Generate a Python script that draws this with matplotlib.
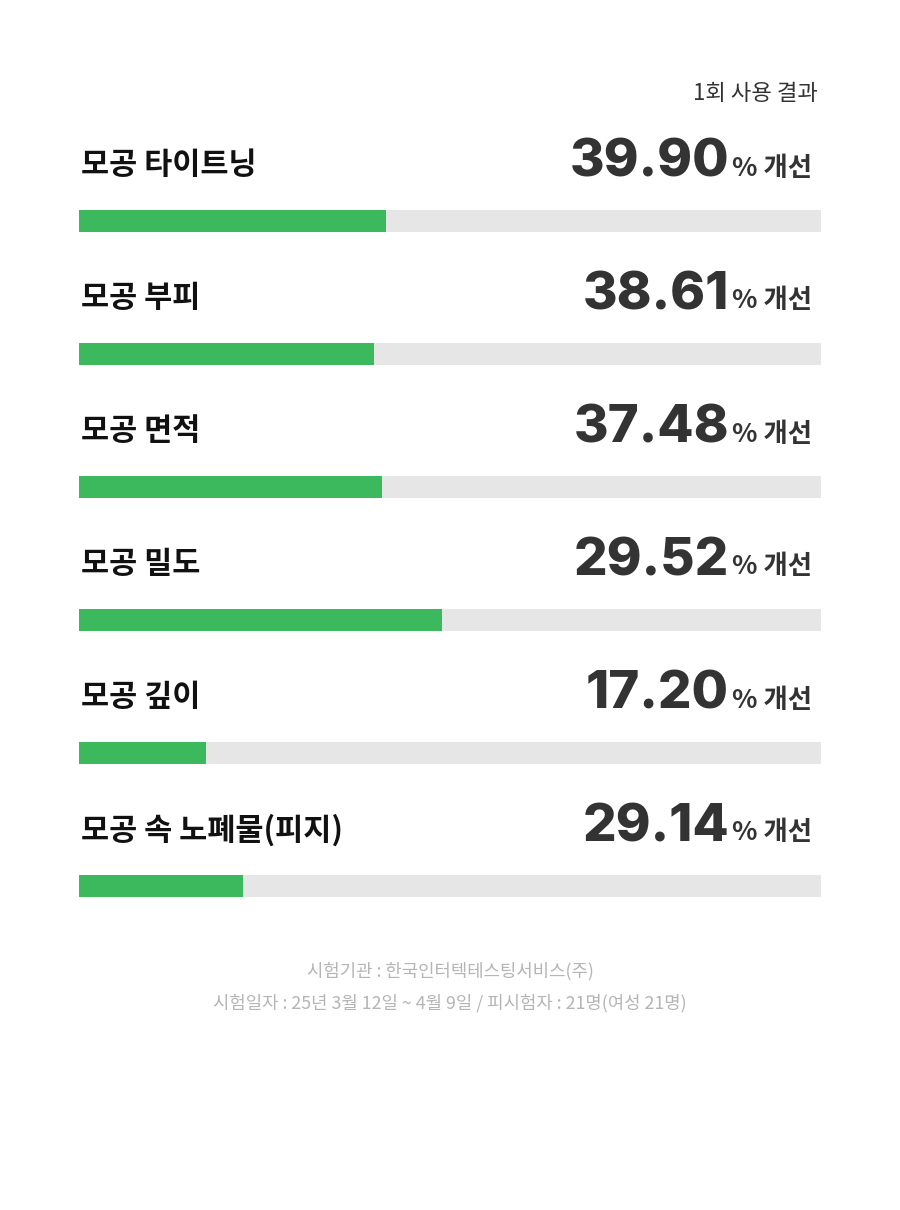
import matplotlib
matplotlib.use("Agg")
import matplotlib.pyplot as plt

plt.rcParams['font.family'] = ['Noto Sans CJK KR', 'DejaVu Sans']

labels = ["모공 타이트닝", "모공 부피", "모공 면적", "모공 밀도", "모공 깊이", "모공 속 노폐물(피지)"]
values = ["39.90", "38.61", "37.48", "29.52", "17.20", "29.14"]
fills = [0.414, 0.398, 0.408, 0.489, 0.171, 0.221]
header = "1회 사용 결과"
footer = ["시험기관 : 한국인터텍테스팅서비스(주)",
          "시험일자 : 25년 3월 12일 ~ 4월 9일 / 피시험자 : 21명(여성 21명)"]

fig = plt.figure(figsize=(9, 12.1), dpi=100)
ax = fig.add_axes([0, 0, 1, 1])
ax.set_xlim(0, 900)
ax.set_ylim(1210, 0)
ax.axis('off')

x0, w = 79, 742
for i, (lab, v, f) in enumerate(zip(labels, values, fills)):
    ty = 165 + i * 133
    by = 221 + i * 133
    ax.barh(by, w, left=x0, height=22, color="#e6e6e6")
    ax.barh(by, w * f, left=x0, height=22, color="#3cb95d")
    ax.text(x0 + 2, ty, lab, fontsize=22, fontweight='bold', color="#111111", va='center', ha='left')
    ax.text(729, ty - 2, v, fontsize=38, fontweight='heavy', family=['Inter', 'DejaVu Sans'],
            color="#333333", va='center', ha='right')
    ax.text(732, ty + 3, "% 개선", fontsize=19, fontweight='bold', color="#333333", va='center', ha='left')

ax.text(818, 93, header, fontsize=16, color="#333333", va='center', ha='right')
ax.text(450, 971, footer[0], fontsize=12.8, color="#b5b5b5", va='center', ha='center')
ax.text(450, 1003, footer[1], fontsize=12.8, color="#b5b5b5", va='center', ha='center')

fig.savefig("out.png", dpi=100)
